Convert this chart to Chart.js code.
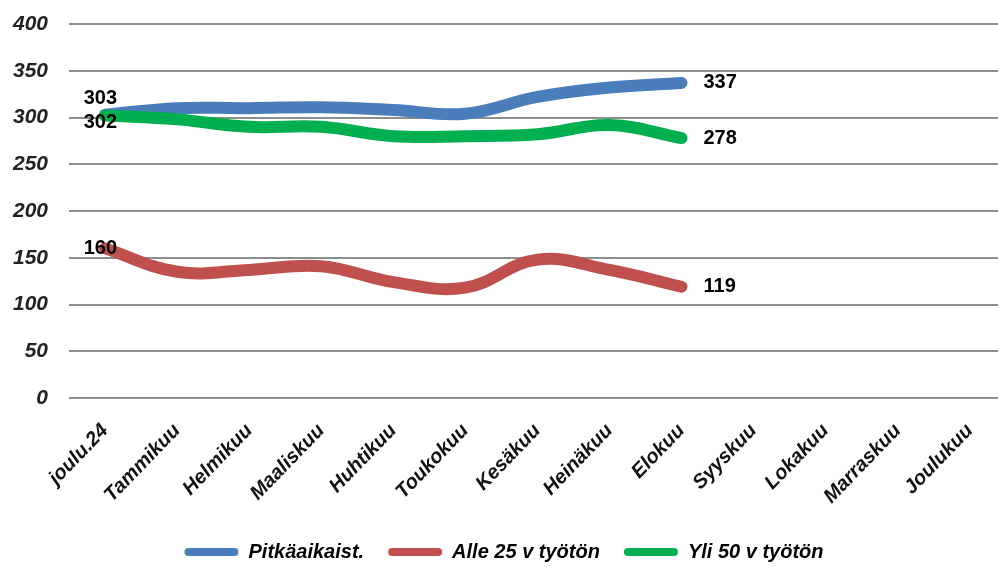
<!DOCTYPE html>
<html>
<head>
<meta charset="utf-8">
<script src="https://cdn.jsdelivr.net/npm/chart.js@4"></script>
<style>
  html, body { margin: 0; padding: 0; background: #fff; overflow: hidden; }
  #wrap { width: 1008px; height: 567px; }
</style>
</head>
<body>
<div id="wrap"><canvas id="chart"></canvas></div>
<script>
const categories = ["joulu.24", "Tammikuu", "Helmikuu", "Maaliskuu", "Huhtikuu", "Toukokuu",
  "Kesäkuu", "Heinäkuu", "Elokuu", "Syyskuu", "Lokakuu", "Marraskuu", "Joulukuu"];
const pitkaaikaiset = [303, 310, 310, 311, 308, 304, 322, 332, 337, null, null, null, null];
const alle25 = [160, 135, 137, 141, 124, 118, 148, 137, 119, null, null, null, null];
const yli50 = [302, 298, 290, 290, 280, 280, 282, 292, 278, null, null, null, null];
const yMin = 0;
const yMax = 400;
const yStep = 50;

const FONT = "'Liberation Sans', Arial, sans-serif";

// value labels at the first and the last point of each line
const firstOffsets = [{ dx: 12, dy: -16 }, { dx: 12, dy: 0 }, { dx: 12, dy: 7 }];
const endLabels = {
  id: "endLabels",
  afterDatasetsDraw(chart) {
    const ctx = chart.ctx;
    ctx.save();
    ctx.font = "bold 20px " + FONT;
    ctx.fillStyle = "#000";
    ctx.textBaseline = "middle";
    chart.data.datasets.forEach((ds, i) => {
      const meta = chart.getDatasetMeta(i);
      let last = -1;
      ds.data.forEach((v, j) => { if (v !== null) last = j; });
      if (last < 0) return;
      const p0 = meta.data[0];
      const off = firstOffsets[i];
      ctx.textAlign = "right";
      ctx.fillText(String(ds.data[0]), p0.x + off.dx, p0.y + off.dy);
      const pl = meta.data[last];
      ctx.textAlign = "left";
      ctx.fillText(String(ds.data[last]), pl.x + 22, pl.y);
    });
    ctx.restore();
  }
};

const line = (label, data, color, order) => ({
  label: label,
  data: data,
  borderColor: color,
  backgroundColor: color,
  borderWidth: 12,
  borderCapStyle: "round",
  borderJoinStyle: "round",
  pointRadius: 0,
  pointHoverRadius: 0,
  tension: 0.4,
  spanGaps: false,
  order: order
});

new Chart(document.getElementById("chart"), {
  type: "line",
  data: {
    labels: categories,
    datasets: [
      line("Pitkäaikaist.", pitkaaikaiset, "#4a7ebb", 2),
      line("Alle 25 v työtön", alle25, "#c0504d", 1),
      line("Yli 50 v työtön", yli50, "#00b050", 0)
    ]
  },
  options: {
    responsive: true,
    maintainAspectRatio: false,
    animation: false,
    layout: { padding: { top: 24, right: 0, bottom: -5, left: 0 } },
    plugins: {
      tooltip: { enabled: false },
      legend: {
        position: "bottom",
        labels: {
          boxWidth: 54,
          boxHeight: 8,
          useBorderRadius: true,
          borderRadius: 4,
          padding: 24,
          color: "#000",
          font: { family: FONT, size: 20, weight: "bold", style: "italic" },
          sort: (a, b) => a.datasetIndex - b.datasetIndex,
          generateLabels: (chart) =>
            Chart.defaults.plugins.legend.labels.generateLabels(chart).map(l => ({ ...l, lineWidth: 0 }))
        }
      }
    },
    scales: {
      x: {
        offset: true,
        grid: { display: false, drawTicks: false },
        border: { display: false },
        ticks: {
          autoSkip: false,
          minRotation: 46,
          maxRotation: 46,
          padding: 21,
          color: "#111",
          font: { family: FONT, size: 20, weight: "bold", style: "italic" }
        },
        afterFit: (scale) => { scale.height = 120; }
      },
      y: {
        min: yMin,
        max: yMax,
        grid: { color: "#8e8e8e", lineWidth: 2, drawTicks: false },
        border: { display: false },
        ticks: {
          stepSize: yStep,
          padding: 21,
          color: "#222",
          font: { family: FONT, size: 21, weight: "bold", style: "italic" }
        },
        afterFit: (scale) => {
          scale.width = 69;
          scale.paddingTop = 0;
          scale.paddingBottom = 0;
        }
      }
    }
  },
  plugins: [endLabels]
});
</script>
</body>
</html>
